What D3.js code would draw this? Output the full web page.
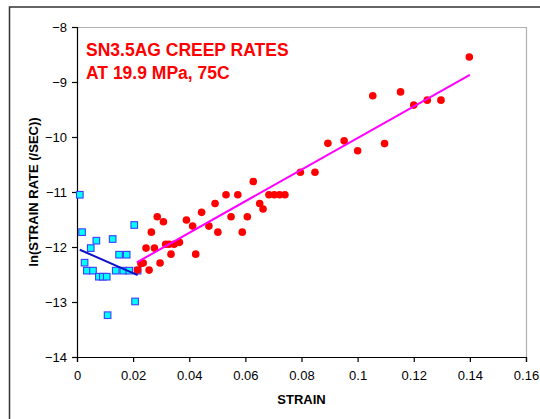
<!DOCTYPE html>
<html>
<head>
<meta charset="utf-8">
<script src="https://cdn.jsdelivr.net/npm/d3@7"></script>
<style>
  body { margin: 0; background: #fff; }
  svg { display: block; font-family: "Liberation Sans", Arial, sans-serif; }
</style>
</head>
<body>
<div id="chart"></div>
<script>
// primary creep (blue squares)
var primStrain = [0.001, 0.0018, 0.0027, 0.0035, 0.0049, 0.0057, 0.0069, 0.0078, 0.0092, 0.0106,
  0.0109, 0.0127, 0.0138, 0.015, 0.0165, 0.0177, 0.0186, 0.0204, 0.0207, 0.0216];
var primRate = [-11.05, -11.73, -12.285, -12.43, -12.02, -12.43, -11.885, -12.54, -12.54, -12.54,
  -13.24, -11.855, -12.43, -12.14, -12.43, -12.14, -12.43, -11.6, -12.99, -12.43];

// tertiary creep (red dots)
var tertStrain = [0.0216, 0.0228, 0.0236, 0.0246, 0.0257, 0.0265, 0.0276, 0.0286, 0.0296, 0.0308,
  0.0316, 0.0328, 0.0335, 0.0346, 0.0365, 0.039, 0.0412, 0.0423, 0.0444, 0.047,
  0.0492, 0.0502, 0.0531, 0.0549, 0.0573, 0.0589, 0.0607, 0.0628, 0.0651, 0.0663,
  0.0684, 0.0703, 0.0722, 0.0741, 0.0796, 0.0848, 0.0894, 0.0952, 0.1, 0.1054,
  0.1096, 0.1153, 0.12, 0.1248, 0.1297, 0.1398];
var tertRate = [-12.42, -12.3, -12.29, -12.02, -12.42, -11.73, -12.02, -11.45, -12.29, -11.54,
  -11.95, -11.95, -12.13, -11.95, -11.915, -11.51, -11.62, -12.13, -11.37, -11.62,
  -11.21, -11.73, -11.05, -11.45, -11.05, -11.73, -11.45, -10.81, -11.21, -11.31,
  -11.05, -11.05, -11.05, -11.05, -10.64, -10.64, -10.115, -10.07, -10.25, -9.25,
  -10.12, -9.18, -9.42, -9.33, -9.33, -8.545];

// fitted trend lines (end points)
var primFitX = [0.001, 0.0216];
var primFitY = [-12.05, -12.51];
var tertFitX = [0.0213, 0.14];
var tertFitY = [-12.28, -8.87];

var xTicks = [0, 0.02, 0.04, 0.06, 0.08, 0.1, 0.12, 0.14, 0.16];
var yTicks = [-8, -9, -10, -11, -12, -13, -14];
var titleLines = ["SN3.5AG CREEP RATES", "AT 19.9 MPa, 75C"];

var width = 540, height = 419;
var plot = {left: 77, top: 27, right: 526, bottom: 357};

var svg = d3.select("#chart").append("svg")
  .attr("width", width)
  .attr("height", height);

// chart area frame (runs off the picture to the right and bottom)
svg.append("rect")
  .attr("x", 9.5).attr("y", 7)
  .attr("width", 600).attr("height", 500)
  .attr("fill", "#fff")
  .attr("stroke", "#333")
  .attr("stroke-width", 1.5);

var x = d3.scaleLinear().domain([0, 0.16]).range([plot.left, plot.right]);
var y = d3.scaleLinear().domain([-14, -8]).range([plot.bottom, plot.top]);

// plot area border (grey top and right)
svg.append("path")
  .attr("d", "M" + plot.left + "," + (plot.top + 0.5) + "H" + (plot.right + 0.5) + "V" + plot.bottom)
  .attr("fill", "none")
  .attr("stroke", "#b0b0b0")
  .attr("stroke-width", 1.2);

var xAxis = svg.append("g")
  .attr("transform", "translate(0," + plot.bottom + ")")
  .call(d3.axisBottom(x).tickValues(xTicks).tickSize(5).tickPadding(9)
    .tickFormat(function (d) { return String(+d.toFixed(2)); }));

var yAxis = svg.append("g")
  .attr("transform", "translate(" + plot.left + ",0)")
  .call(d3.axisLeft(y).tickValues(yTicks).tickSize(5).tickPadding(5)
    .tickFormat(d3.format("d")));

[xAxis, yAxis].forEach(function (g) {
  g.select(".domain").attr("stroke", "#000").attr("stroke-width", 1.2);
  g.selectAll(".tick line").attr("stroke", "#000").attr("stroke-width", 1.2);
  g.selectAll(".tick text")
    .attr("fill", "#000")
    .style("font-size", "13px")
    .style("font-family", "'Liberation Sans', Arial, sans-serif");
});

// markers
svg.append("g").selectAll("rect")
  .data(d3.range(primStrain.length))
  .join("rect")
  .attr("x", function (i) { return x(primStrain[i]) - 3.3; })
  .attr("y", function (i) { return y(primRate[i]) - 3.3; })
  .attr("width", 6.6).attr("height", 6.6)
  .attr("fill", "#00ffff")
  .attr("stroke", "#3c3cff")
  .attr("stroke-width", 1.1);

svg.append("g").selectAll("circle")
  .data(d3.range(tertStrain.length))
  .join("circle")
  .attr("cx", function (i) { return x(tertStrain[i]); })
  .attr("cy", function (i) { return y(tertRate[i]); })
  .attr("r", 3.8)
  .attr("fill", "#ff0000");

// trend lines
var line = d3.line()
  .x(function (d) { return x(d[0]); })
  .y(function (d) { return y(d[1]); });

svg.append("path")
  .datum(d3.zip(primFitX, primFitY))
  .attr("d", line)
  .attr("fill", "none")
  .attr("stroke", "#1010c8")
  .attr("stroke-width", 2);

svg.append("path")
  .datum(d3.zip(tertFitX, tertFitY))
  .attr("d", line)
  .attr("fill", "none")
  .attr("stroke", "#ff00ff")
  .attr("stroke-width", 2);

// title inside plot
svg.append("g").selectAll("text")
  .data(titleLines)
  .join("text")
  .attr("x", 86)
  .attr("y", function (d, i) { return 56 + i * 23; })
  .attr("fill", "#ff0000")
  .style("font-size", "17.5px")
  .style("font-weight", "bold")
  .text(function (d) { return d; });

// axis titles
svg.append("text")
  .attr("x", (plot.left + plot.right) / 2)
  .attr("y", 404)
  .attr("text-anchor", "middle")
  .style("font-size", "13px")
  .style("font-weight", "bold")
  .text("STRAIN");

svg.append("text")
  .attr("transform", "translate(38," + (plot.top + plot.bottom) / 2 + ") rotate(-90)")
  .attr("text-anchor", "middle")
  .style("font-size", "13px")
  .style("font-weight", "bold")
  .text("ln(STRAIN RATE (/SEC))");
</script>
</body>
</html>
